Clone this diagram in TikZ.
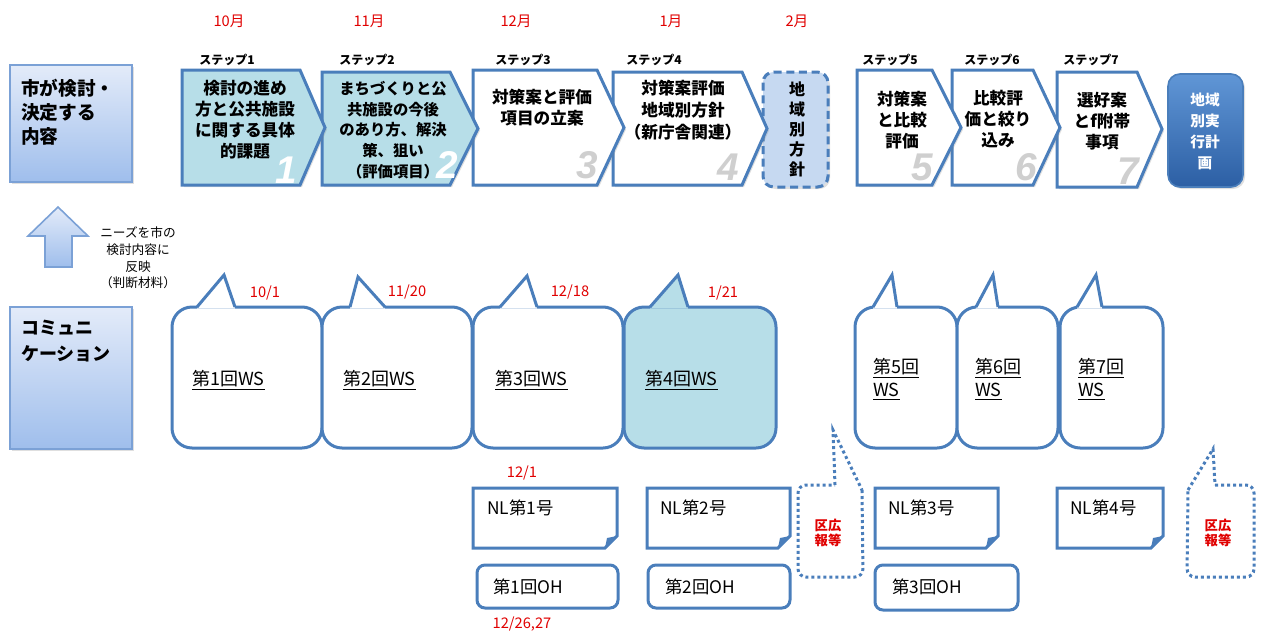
\documentclass[tikz,border=0pt]{standalone}
\usepackage{fontspec}
\setmainfont{Noto Sans CJK JP}
\newfontfamily\numfont{Liberation Sans}
\usetikzlibrary{fit,shadows}
\definecolor{bl}{HTML}{4A7EBB}
\definecolor{lb}{HTML}{B7DEE8}
\definecolor{dbf}{HTML}{C6D9F1}
\definecolor{rd}{HTML}{E00000}
\definecolor{gr}{HTML}{CFCFCF}
\definecolor{lbtop}{HTML}{E3EBF9}
\definecolor{lbbot}{HTML}{9FBEEC}
\definecolor{lbbd}{HTML}{7BA1D6}
\definecolor{fintop}{HTML}{6096D6}
\definecolor{finbot}{HTML}{2C5FA4}
\newcommand\fsz[2]{\fontsize{#1}{#2}\selectfont}
\tikzset{
  shd/.style={drop shadow={shadow xshift=1.5pt,shadow yshift=-1.5pt,opacity=0.25}},
  chev/.style={draw=bl, line width=2.25pt, line join=miter, shd},
  steptxt/.style={font=\bfseries\fsz{12.5}{15.75}, align=center, inner sep=0},
  num/.style={font=\numfont\bfseries\itshape\fsz{29}{29}, inner sep=0, anchor=base},
  mon/.style={text=rd, font=\fsz{11}{13}, inner sep=0},
  steplbl/.style={font=\bfseries\fsz{9}{10}, inner sep=0},
  wsb/.style={draw=bl, line width=2.25pt, rounded corners=15pt, inner sep=0, fill=white},
  wstail/.style={draw=bl, line width=2.25pt, line join=miter},
  wstxt/.style={font=\fsz{13.5}{17.5}, align=left, anchor=west, inner sep=0},
  smtxt/.style={font=\fsz{13}{15}, align=left, anchor=west, inner sep=0},
  nlbox/.style={draw=bl, line width=2.25pt, fill=white, line join=miter},
  ohbox/.style={draw=bl, line width=2.25pt, rounded corners=6pt, inner sep=0},
  dotb/.style={draw=bl, line width=2.25pt, dash pattern=on 2.25pt off 2.25pt},
  kuho/.style={text=rd, font=\bfseries\fsz{10}{11.5}, align=center, inner sep=0},
  leftbox/.style={draw=lbbd, line width=1.5pt, top color=lbtop, bottom color=lbbot, inner sep=0, shd},
  lefttxt/.style={font=\bfseries\fsz{14}{18}, align=left, anchor=west, inner sep=0},
}
\begin{document}
\begin{tikzpicture}[x=0.75pt,y=-0.75pt]
\useasboundingbox (0,0) rectangle (1263,632);

% left boxes
\node[leftbox, fit={(10,65) (132,182)}] (city) {};
\node[lefttxt] (citytxt) at (21,112) {市が検討・\\決定する\\内容};
\node[leftbox, fit={(10,307) (132,449)}] (comm) {};
\node[lefttxt, font=\bfseries\fsz{13.5}{19}] (commtxt) at (21,341) {コミュニ\\ケーション};
\draw[draw=lbbd, line width=1.2pt, top color=lbtop, bottom color=lbbot] (58,207) -- (88,236) -- (72,236) -- (72,267) -- (45,267) -- (45,236) -- (28,236) -- cycle;
\node[font=\fsz{9.5}{12.5}, align=center, inner sep=0] (needs) at (138,258) {ニーズを市の\\検討内容に\\反映\\（判断材料）};

% months
\node[mon] (m10) at (229,21) {10月};
\node[mon] (m11) at (369,21) {11月};
\node[mon] (m12) at (516,21) {12月};
\node[mon] (m1) at (671,21) {1月};
\node[mon] (m2) at (797,21) {2月};

% step labels
\node[steplbl] (l1) at (227,60) {ステップ1};
\node[steplbl] (l2) at (367,60) {ステップ2};
\node[steplbl] (l3) at (523,60) {ステップ3};
\node[steplbl] (l4) at (654,60) {ステップ4};
\node[steplbl] (l5) at (890,60) {ステップ5};
\node[steplbl] (l6) at (992,60) {ステップ6};
\node[steplbl] (l7) at (1091,60) {ステップ7};

% final box
\node[draw=bl, line width=1.2pt, rounded corners=9pt, top color=fintop, bottom color=finbot, inner sep=0, shd, fit={(1168,74) (1243,187)}] (final) {};
\node[text=white, font=\bfseries\fsz{11}{15.75}, align=center, inner sep=0] (finaltxt) at (1205,131) {地域\\別実\\行計\\画};

% chevrons (drawn back to front)
\draw[chev, fill=white] (1057,72) -- (1137,72) -- (1162,129) -- (1137,187) -- (1057,187) -- cycle;
\node[num, text=gr] (n7) at (1128,184) {7};
\node[steptxt] (t7) at (1102,121) {選好案\\とf附帯\\事項};
\draw[chev, fill=white] (952,70) -- (1033,70) -- (1060,127.5) -- (1033,185) -- (952,185) -- cycle;
\node[num, text=gr] (n6) at (1026,180) {6};
\node[steptxt] (t6) at (998,119) {比較評\\価と絞り\\込み};
\draw[chev, fill=white] (857,70) -- (932,70) -- (961,127.5) -- (932,185) -- (857,185) -- cycle;
\node[num, text=gr] (n5) at (922,180) {5};
\node[steptxt] (t5) at (902,120) {対策案\\と比較\\評価};

\draw[draw=bl, line width=2.25pt, dash pattern=on 6pt off 3.5pt, rounded corners=8pt, fill=dbf, shd] (763,72) rectangle (828,187);
\node[steptxt, font=\bfseries\fsz{12}{15}] (tc) at (797,129) {地\\域\\別\\方\\針};

\draw[chev, fill=white] (613,72) -- (742,72) -- (767,128.5) -- (742,185) -- (613,185) -- cycle;
\node[num, text=gr] (n4) at (728,180) {4};
\node[steptxt, font=\bfseries\fsz{12.5}{16.5}] (t4) at (683,110) {対策案評価\\地域別方針\\（新庁舎関連）};
\draw[chev, fill=white] (473,70) -- (597,70) -- (624,127.5) -- (597,185) -- (473,185) -- cycle;
\node[num, text=gr] (n3) at (587,178) {3};
\node[steptxt] (t3) at (542,108) {対策案と評価\\項目の立案};
\draw[chev, fill=lb] (322,72) -- (450,72) -- (478,128.5) -- (450,185) -- (322,185) -- cycle;
\node[num, text=white] (n2) at (447,178) {2};
\node[steptxt, font=\bfseries\fsz{11.5}{15.5}] (t2) at (393,130) {まちづくりと公\\共施設の今後\\のあり方、解決\\策、狙い\\（評価項目）};
\draw[chev, fill=lb] (182,70) -- (300,70) -- (325,127.5) -- (300,185) -- (182,185) -- cycle;
\node[num, text=white] (n1) at (286,183) {1};
\node[steptxt] (t1) at (245,120) {検討の進め\\方と公共施設\\に関する具体\\的課題};

% WS bubbles
\node[wsb, fit={(172,307) (322,448)}] (ws1) {};
\fill[white] (197,308.5) -- (224,275) -- (235,308.5) -- cycle;
\draw[wstail] (197,307) -- (224,275) -- (235,307);
\node[wsb, fit={(322,307) (472,448)}] (ws2) {};
\fill[white] (350,308.5) -- (358,277) -- (385,308.5) -- cycle;
\draw[wstail] (350,307) -- (358,277) -- (385,307);
\node[wsb, fit={(473,307) (623,448)}] (ws3) {};
\fill[white] (500,308.5) -- (527,276) -- (537,308.5) -- cycle;
\draw[wstail] (500,307) -- (527,276) -- (537,307);
\node[wsb, fill=lb, fit={(624,307) (776,448)}] (ws4) {};
\fill[lb] (650,308.5) -- (678,275) -- (688,308.5) -- cycle;
\draw[wstail] (650,307) -- (678,275) -- (688,307);
\node[wsb, fit={(855,307) (957,448)}] (ws5) {};
\fill[white] (873,308.5) -- (892,275) -- (897,308.5) -- cycle;
\draw[wstail] (873,307) -- (892,275) -- (897,307);
\node[wsb, fit={(957,307) (1058,448)}] (ws6) {};
\fill[white] (976,308.5) -- (993,275) -- (998,308.5) -- cycle;
\draw[wstail] (976,307) -- (993,275) -- (998,307);
\node[wsb, fit={(1060,307) (1163,448)}] (ws7) {};
\fill[white] (1077,308.5) -- (1096,275) -- (1102,308.5) -- cycle;
\draw[wstail] (1077,307) -- (1096,275) -- (1102,307);

\node[wstxt] (w1) at (192,380) {\underline{第1回WS}};
\node[wstxt] (w2) at (343,380) {\underline{第2回WS}};
\node[wstxt] (w3) at (495,380) {\underline{第3回WS}};
\node[wstxt] (w4) at (645,380) {\underline{第4回WS}};
\node[wstxt] (w5) at (873,379) {\underline{第5回}\\\underline{WS}};
\node[wstxt] (w6) at (975,379) {\underline{第6回}\\\underline{WS}};
\node[wstxt] (w7) at (1078,379) {\underline{第7回}\\\underline{WS}};

% dates
\node[mon] (d1) at (265,293) {10/1};
\node[mon] (d2) at (407,292) {11/20};
\node[mon] (d3) at (570,292) {12/18};
\node[mon] (d4) at (723,293) {1/21};
\node[mon] (d5) at (522,473) {12/1};
\node[mon] (d6) at (522,624) {12/26,27};

% newsletters
\draw[nlbox] (473,488) -- (617,488) -- (617,536) -- (605,548) -- (473,548) -- cycle;
\fill[bl] (617,536) -- (605,548) -- (607,538) -- cycle;
\node[smtxt] (nl1) at (487,508) {NL第1号};
\draw[nlbox] (647,488) -- (790,488) -- (790,536) -- (778,548) -- (647,548) -- cycle;
\fill[bl] (790,536) -- (778,548) -- (780,538) -- cycle;
\node[smtxt] (nl2) at (660,508) {NL第2号};
\draw[nlbox] (875,488) -- (998,488) -- (998,536) -- (986,548) -- (875,548) -- cycle;
\fill[bl] (998,536) -- (986,548) -- (988,538) -- cycle;
\node[smtxt] (nl3) at (888,508) {NL第3号};
\draw[nlbox] (1057,488) -- (1163,488) -- (1163,536) -- (1151,548) -- (1057,548) -- cycle;
\fill[bl] (1163,536) -- (1151,548) -- (1153,538) -- cycle;
\node[smtxt] (nl4) at (1070,508) {NL第4号};

% open houses
\node[ohbox, fit={(477,565) (618,608)}] (oh1) {};
\node[smtxt] (oh1t) at (493,587) {第1回OH};
\node[ohbox, fit={(648,565) (790,608)}] (oh2) {};
\node[smtxt] (oh2t) at (665,587) {第2回OH};
\node[ohbox, fit={(875,565) (1018,610)}] (oh3) {};
\node[smtxt] (oh3t) at (892,587) {第3回OH};

% dotted callouts
\draw[dotb] (835,485) -- (833,430) -- (862,490);
\draw[dotb, rounded corners=6pt] (862,490) -- (863,577) -- (798,577) -- (798,485) -- (835,485);
\node[kuho] (k1) at (828,533) {区広\\報等};
\draw[dotb] (1188,490) -- (1213,449) -- (1215,485);
\draw[dotb, rounded corners=6pt] (1215,485) -- (1254,485) -- (1254,577) -- (1187,577) -- (1188,490);
\node[kuho] (k2) at (1218,533) {区広\\報等};
\end{tikzpicture}
\end{document}
